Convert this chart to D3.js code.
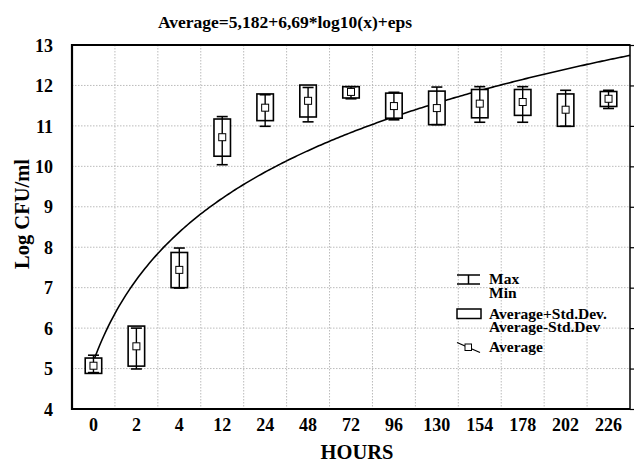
<!DOCTYPE html>
<html>
<head>
<meta charset="utf-8">
<script src="https://cdn.jsdelivr.net/npm/d3@7"></script>
<style>
  body { margin: 0; background: #fff; }
  svg text { font-family: "Liberation Serif", "Times New Roman", serif; font-weight: bold; fill: #000; }
  .grid line { stroke: #bbb; stroke-dasharray: 1.5 1.5; stroke-width: 1; }
</style>
</head>
<body>
<svg id="chart" width="634" height="463"></svg>
<script>
// hours sampled
var hours = ["0", "2", "4", "12", "24", "48", "72", "96", "130", "154", "178", "202", "226"];
// log CFU/ml
var avgVals = [5.07, 5.55, 7.44, 10.72, 11.45, 11.62, 11.84, 11.49, 11.44, 11.55, 11.59, 11.40, 11.67];
var sdHigh  = [5.26, 6.05, 7.87, 11.17, 11.79, 12.01, 11.97, 11.81, 11.86, 11.90, 11.90, 11.79, 11.85];
var sdLow   = [4.88, 5.06, 7.00, 10.25, 11.13, 11.22, 11.69, 11.19, 11.03, 11.20, 11.26, 10.99, 11.48];
var maxVals = [5.33, 6.00, 7.98, 11.23, 11.77, 11.95, 11.97, 11.83, 11.96, 11.97, 11.97, 11.88, 11.88];
var minVals = [4.90, 4.99, 6.99, 10.04, 10.99, 11.10, 11.67, 11.15, 11.03, 11.09, 11.09, 10.99, 11.43];
var yTicks = [4, 5, 6, 7, 8, 9, 10, 11, 12, 13];
// fit from the title: Average = a + b*log10(x), x = position of the hour (1..)
var fitCoef = [5.182, 6.69];
var legendLabels = [["Max", "Min"], ["Average+Std.Dev.", "Average-Std.Dev"], ["Average"]];

var svg = d3.select("#chart");
var pLeft = 72, pRight = 630, pTop = 45, pBottom = 409;

var x = d3.scaleBand().domain(hours).range([pLeft, pRight]).padding(0);
var y = d3.scaleLinear().domain([4, 13]).range([pBottom, pTop]);
// continuous position for the fit curve (1 = first hour)
var xPos = d3.scaleLinear().domain([1, hours.length]).range([x(hours[0]) + x.bandwidth() / 2, x(hours[hours.length - 1]) + x.bandwidth() / 2]);

var data = hours.map(function(h, i) {
    return {h: h, avg: avgVals[i], hi: sdHigh[i], lo: sdLow[i], max: maxVals[i], min: minVals[i]};
});

// grid
var grid = svg.append("g").attr("class", "grid");
grid.selectAll(".hg")
    .data(yTicks.slice(1, -1))
    .enter().append("line")
        .attr("x1", pLeft).attr("x2", pRight)
        .attr("y1", function(d) { return y(d); })
        .attr("y2", function(d) { return y(d); });
grid.selectAll(".vg")
    .data(hours.slice(1))
    .enter().append("line")
        .attr("x1", function(d) { return x(d); })
        .attr("x2", function(d) { return x(d); })
        .attr("y1", pTop).attr("y2", pBottom);

// axes
var yAxis = svg.append("g")
    .attr("transform", "translate(" + pLeft + ",0)")
    .call(d3.axisLeft(y).tickValues(yTicks).tickSize(0).tickPadding(19).tickFormat(d3.format("d")));
yAxis.select(".domain").remove();
yAxis.selectAll("text").style("font-size", "18px").attr("dy", "0.34em");

var xAxis = svg.append("g")
    .attr("transform", "translate(0," + pBottom + ")")
    .call(d3.axisBottom(x).tickSize(0));
xAxis.select(".domain").remove();
xAxis.selectAll("text").style("font-size", "18px").attr("y", 22).attr("dy", 0);

var rAxis = svg.append("g")
    .attr("transform", "translate(" + pRight + ",0)")
    .call(d3.axisRight(y).tickValues(yTicks).tickSize(4).tickFormat(""));
rAxis.select(".domain").remove();
rAxis.selectAll("line").attr("stroke", "#000").attr("stroke-width", 1.2);

// frame
svg.append("rect")
    .attr("x", pLeft).attr("y", pTop)
    .attr("width", pRight - pLeft).attr("height", pBottom - pTop)
    .attr("fill", "none").attr("stroke", "#000").attr("stroke-width", 1.5);
svg.append("path")
    .attr("d", "M" + pRight + "," + pTop + "H" + pLeft + "V" + pBottom + "H" + pRight)
    .attr("fill", "none").attr("stroke", "#000").attr("stroke-width", 2.2);

// fit curve
var curvePts = d3.range(1, hours.length + 0.5 + 1e-9, 0.05);
var line = d3.line()
    .x(function(d) { return Math.min(xPos(d), pRight); })
    .y(function(d) { return y(fitCoef[0] + fitCoef[1] * Math.log10(d)); });
svg.append("path")
    .datum(curvePts)
    .attr("d", line)
    .attr("fill", "none").attr("stroke", "#000").attr("stroke-width", 1.6);

// boxes
var boxW = 16.5, capW = 11, mk = 7;
var g = svg.append("g").selectAll("g")
    .data(data)
    .enter().append("g")
        .attr("transform", function(d) { return "translate(" + (x(d.h) + x.bandwidth() / 2) + ",0)"; });
g.append("rect")
    .attr("x", -boxW / 2).attr("width", boxW)
    .attr("y", function(d) { return y(d.hi); })
    .attr("height", function(d) { return y(d.lo) - y(d.hi); })
    .attr("fill", "#fff").attr("stroke", "#000").attr("stroke-width", 1.6);
g.append("line")
    .attr("y1", function(d) { return y(d.max); })
    .attr("y2", function(d) { return y(d.min); })
    .attr("stroke", "#000").attr("stroke-width", 1.4);
g.append("line")
    .attr("x1", -capW / 2).attr("x2", capW / 2)
    .attr("y1", function(d) { return y(d.max); })
    .attr("y2", function(d) { return y(d.max); })
    .attr("stroke", "#000").attr("stroke-width", 1.6);
g.append("line")
    .attr("x1", -capW / 2).attr("x2", capW / 2)
    .attr("y1", function(d) { return y(d.min); })
    .attr("y2", function(d) { return y(d.min); })
    .attr("stroke", "#000").attr("stroke-width", 1.6);
g.append("rect")
    .attr("x", -mk / 2).attr("width", mk)
    .attr("y", function(d) { return y(d.avg) - mk / 2; })
    .attr("height", mk)
    .attr("fill", "#fff").attr("stroke", "#000").attr("stroke-width", 1);

// legend
var lg = svg.append("g").attr("transform", "translate(457,0)");
lg.append("path")
    .attr("d", "M0,275H23M0,284H23M11.5,275V284")
    .attr("fill", "none").attr("stroke", "#000").attr("stroke-width", 1.5);
lg.append("rect")
    .attr("x", 0).attr("y", 309).attr("width", 24).attr("height", 9.5)
    .attr("fill", "#fff").attr("stroke", "#000").attr("stroke-width", 1.5);
lg.append("path")
    .attr("d", "M0,342.5L23,352.5")
    .attr("fill", "none").attr("stroke", "#000").attr("stroke-width", 1.3);
lg.append("rect")
    .attr("x", 8).attr("y", 344).attr("width", 6.5).attr("height", 6.5)
    .attr("fill", "#fff").attr("stroke", "#000").attr("stroke-width", 1);
var legY = [[283.5, 297.5], [318.5, 332], [352]];
legendLabels.forEach(function(pair, i) {
    pair.forEach(function(t, j) {
        lg.append("text")
            .attr("x", 32).attr("y", legY[i][j])
            .style("font-size", "15.5px")
            .text(t);
    });
});

// titles
svg.append("text")
    .attr("x", 285).attr("y", 27.5)
    .attr("text-anchor", "middle")
    .style("font-size", "17.5px")
    .text("Average=5,182+6,69*log10(x)+eps");
svg.append("text")
    .attr("x", 357).attr("y", 459)
    .attr("text-anchor", "middle")
    .style("font-size", "20.5px")
    .text("HOURS");
svg.append("text")
    .attr("transform", "translate(29,214) rotate(-90)")
    .attr("text-anchor", "middle")
    .style("font-size", "20.5px")
    .text("Log CFU/ml");
</script>
</body>
</html>
